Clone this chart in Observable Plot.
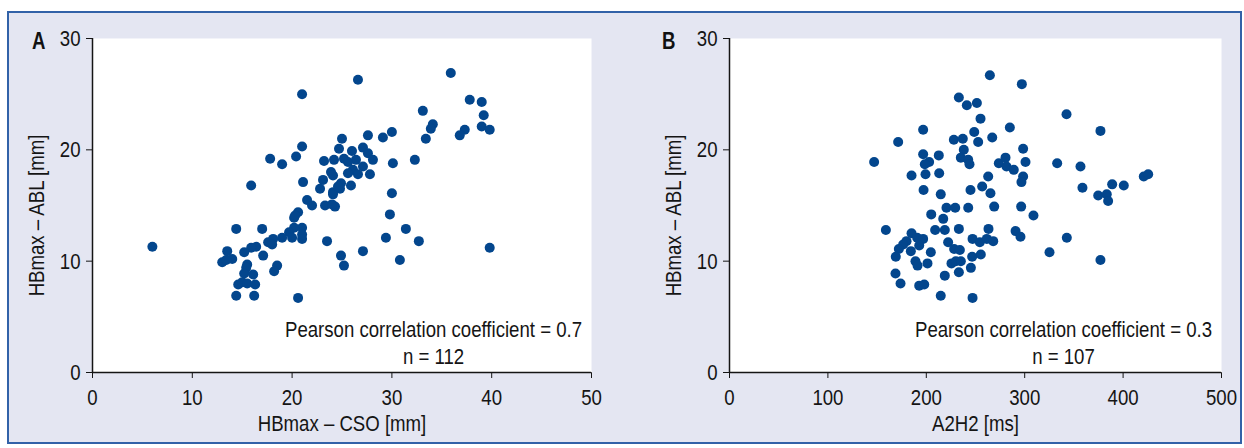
<!DOCTYPE html>
<html>
<head>
<meta charset="utf-8">
<script src="https://cdn.jsdelivr.net/npm/d3@7"></script>
<script src="https://cdn.jsdelivr.net/npm/@observablehq/plot@0.6"></script>
<style>
  html, body { margin: 0; padding: 0; background: #ffffff; }
  body { width: 1244px; height: 448px; position: relative; overflow: hidden;
         font-family: "Liberation Sans", Arial, sans-serif; }
  #box { position: absolute; left: 7px; top: 11px; width: 1231px; height: 429px;
         background: #e4e6f2; border: 2px solid #3262a8; }
  .panel { position: absolute; top: 0; }
  .letter { position: absolute; font-weight: bold; font-size: 23px; color: #111; line-height: 1;
            transform: scaleX(0.81); transform-origin: 0 0; }
</style>
</head>
<body>
<div id="box"></div>
<div class="letter" style="left:32px; top:30px;">A</div>
<div class="letter" style="left:662px; top:30px;">B</div>
<div id="pa" class="panel" style="left:0px;"></div>
<div id="pb" class="panel" style="left:640px;"></div>
<script>
// ---- Panel A: HBmax – CSO [mm] vs HBmax – ABL [mm]
const aX = [6.0, 21.0, 21.0, 17.8, 19.0, 20.4, 23.2, 24.2, 24.7, 25.0, 23.9, 24.1, 23.1, 22.8, 21.1, 15.9, 24.1, 24.9, 21.5, 22.0,
  23.3, 24.3, 20.6, 20.2, 21.0, 20.2, 19.7, 20.0, 21.0, 21.0, 19.0, 18.1, 17.6, 18.0, 17.0, 14.4, 23.5, 16.4, 15.9, 15.2,
  13.5, 14.0, 13.0, 13.4, 17.1, 15.5, 15.4, 15.2, 16.1, 18.5, 18.2, 14.6, 15.0, 15.5, 16.3, 14.4, 16.2, 20.6, 24.9, 25.2,
  35.9, 26.6, 37.8, 39.0, 39.2, 39.0, 39.8, 33.1, 34.1, 33.9, 33.4, 37.3, 36.8, 30.0, 29.1, 27.6, 26.0, 27.1, 27.6, 28.1,
  26.4, 25.2, 25.6, 27.1, 26.1, 25.6, 26.6, 27.8, 30.1, 32.3, 24.8, 24.1, 25.9, 24.0, 30.0, 29.8, 31.4, 29.4, 32.7, 39.8,
  27.1, 30.8, 20.3, 24.6];
const aY = [11.3, 25.0, 20.3, 19.2, 18.7, 19.4, 19.0, 19.1, 20.1, 21.0, 18.0, 17.7, 17.3, 16.5, 17.1, 16.8, 16.2, 17.0, 15.5, 15.0,
  15.0, 14.9, 14.4, 13.9, 13.0, 13.0, 12.6, 12.1, 12.0, 12.4, 12.1, 12.0, 11.7, 11.5, 12.9, 12.9, 11.8, 11.3, 11.2, 10.8,
  10.9, 10.2, 9.9, 10.1, 10.5, 9.7, 9.4, 8.9, 8.8, 9.6, 9.1, 7.9, 8.1, 8.0, 7.9, 6.9, 6.9, 6.7, 10.5, 9.6,
  26.9, 26.3, 24.5, 24.3, 23.1, 22.1, 21.8, 23.5, 22.3, 21.9, 21.0, 21.8, 21.3, 21.6, 21.1, 21.3, 19.9, 20.2, 19.7, 19.1,
  19.1, 19.2, 18.9, 18.5, 18.2, 17.9, 17.8, 17.8, 18.8, 19.1, 16.5, 16.0, 16.8, 15.1, 16.1, 14.2, 12.9, 12.1, 11.8, 11.2,
  10.9, 10.1, 14.1, 16.7];

// ---- Panel B: A2H2 [ms] vs HBmax – ABL [mm]
const bX = [264.6, 297.1, 233.1, 241.2, 251.4, 255.1, 196.8, 284.9, 171.4, 228.0, 237.1, 248.7, 252.7, 267.0, 147.0, 196.8, 212.7, 202.9, 198.5, 238.1,
  235.1, 242.6, 243.9, 298.4, 300.8, 273.7, 280.5, 281.5, 288.9, 185.0, 199.2, 213.1, 262.9, 298.4, 296.7, 197.2, 244.9, 256.8, 265.2, 214.7,
  220.5, 229.4, 242.6, 269.0, 296.4, 308.9, 205.0, 217.2, 158.9, 209.0, 218.8, 233.1, 263.2, 290.7, 295.7, 185.0, 179.9, 190.7, 196.8, 192.8,
  176.5, 172.1, 169.0, 184.3, 204.6, 222.2, 228.3, 234.1, 247.0, 254.4, 261.5, 268.0, 246.6, 255.4, 189.0, 191.1, 201.2, 225.6, 230.0, 235.1,
  233.1, 245.3, 168.7, 173.8, 192.8, 197.9, 218.8, 214.7, 247.0, 342.5, 377.0, 333.0, 356.7, 358.7, 388.9, 400.7, 421.0, 425.5, 374.7, 383.4,
  384.8, 342.8, 325.2, 377.0];
const bY = [26.7, 25.9, 24.7, 24.0, 24.2, 22.8, 21.8, 22.0, 20.7, 20.9, 21.0, 21.6, 20.7, 21.1, 18.9, 19.6, 19.5, 18.9, 18.7, 20.0,
  19.3, 19.1, 18.7, 20.1, 18.9, 18.8, 19.3, 18.5, 18.2, 17.7, 17.8, 17.9, 17.6, 17.6, 17.1, 16.4, 16.4, 16.7, 16.1, 16.0,
  14.8, 14.8, 14.8, 14.9, 14.9, 14.1, 14.2, 13.8, 12.8, 12.8, 12.8, 12.9, 12.9, 12.7, 12.2, 12.5, 11.8, 12.1, 12.0, 11.4,
  11.5, 11.1, 10.4, 10.9, 10.8, 11.7, 11.1, 11.0, 12.0, 11.7, 12.0, 11.8, 10.4, 10.6, 10.0, 9.6, 9.8, 9.8, 10.0, 10.0,
  9.0, 9.4, 8.9, 8.0, 7.8, 7.9, 8.7, 6.9, 6.7, 23.2, 21.7, 18.8, 18.5, 16.6, 16.9, 16.8, 17.6, 17.8, 15.9, 16.0,
  15.4, 12.1, 10.8, 10.1];

const yTicks = [0, 10, 20, 30];
const aTicks = [0, 10, 20, 30, 40, 50];
const bTicks = [0, 100, 200, 300, 400, 500];
const yTitle = "HBmax – ABL [mm]";
const aTitle = "HBmax – CSO [mm]";
const bTitle = "A2H2 [ms]";
const aNote = ["Pearson correlation coefficient = 0.7", "n = 112"];
const bNote = ["Pearson correlation coefficient = 0.3", "n = 107"];

const FONT = '"Liberation Sans", Arial, sans-serif';
const FS = 23;
const NARROW = 0.81; // emulate a condensed face
const DOT = "#03468d";
const INK = "#151515";

function condense(svg) {
  d3.select(svg).selectAll("text").each(function () {
    const t = this.getAttribute("transform") || "";
    const x = +(this.getAttribute("x") || 0);
    this.setAttribute("transform", `${t} translate(${x},0) scale(${NARROW},1) translate(${-x},0)`);
  });
  return svg;
}

function panel(xs, ys, xDomain, xTicks, xTitle, note, width, mL, mR) {
  const data = xs.map((x, i) => ({x, y: ys[i]}));
  const svg = Plot.plot({
    width, height: 448,
    marginLeft: mL, marginRight: mR, marginTop: 38, marginBottom: 76,
    style: {background: "transparent", fontFamily: FONT, fontSize: `${FS}px`, color: INK, overflow: "visible"},
    x: {domain: xDomain, ticks: xTicks, tickSize: 6, tickPadding: 10, label: xTitle,
        labelAnchor: "center", labelArrow: "none", labelOffset: 58},
    y: {domain: [0, 30], ticks: yTicks, tickSize: 6, tickPadding: 6, label: null},
    marks: [
      Plot.frame({fill: "white", stroke: null}),
      Plot.dot(data, {x: "x", y: "y", r: 5, fill: DOT, stroke: null}),
      Plot.ruleX([xDomain[0]], {stroke: INK, strokeWidth: 1.5}),
      Plot.ruleY([0], {stroke: INK, strokeWidth: 1.5}),
      Plot.text([yTitle], {frameAnchor: "left", rotate: -90, lineAnchor: "top", textAnchor: "middle",
        dx: -65, dy: 10, fill: INK, fontSize: FS}),
      Plot.text([note.join("\n")], {frameAnchor: "bottom-right", textAnchor: "middle",
        lineAnchor: "bottom", lineHeight: 1.17, dx: -158, dy: -9, fill: INK, fontSize: FS})
    ]
  });
  return condense(svg);
}

document.getElementById("pa").appendChild(panel(aX, aY, [0, 50], aTicks, aTitle, aNote, 640, 92, 49));
document.getElementById("pb").appendChild(panel(bX, bY, [0, 500], bTicks, bTitle, bNote, 604, 89, 23));
</script>
</body>
</html>
